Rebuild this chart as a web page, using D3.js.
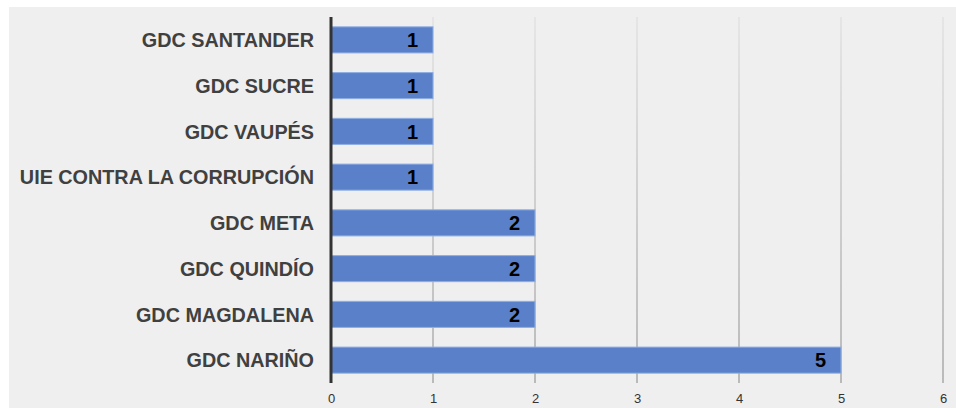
<!DOCTYPE html>
<html>
<head>
<meta charset="utf-8">
<script src="https://cdn.jsdelivr.net/npm/d3@7"></script>
<style>
  html, body { margin: 0; padding: 0; background: #fff; }
  svg { display: block; font-family: "Liberation Sans", Arial, sans-serif; }
</style>
</head>
<body>
<svg id="chart" width="956" height="408"></svg>
<script>
// data
const categories = ['GDC SANTANDER', 'GDC SUCRE', 'GDC VAUPÉS', 'UIE CONTRA LA CORRUPCIÓN',
  'GDC META', 'GDC QUINDÍO', 'GDC MAGDALENA', 'GDC NARIÑO'];
const values = [1, 1, 1, 1, 2, 2, 2, 5];
const xTicks = [0, 1, 2, 3, 4, 5, 6];

const svg = d3.select('#chart');
const margin = { top: 17, right: 13, bottom: 25, left: 331 };
const W = 956 - margin.left - margin.right, H = 408 - margin.top - margin.bottom;

// panel background
svg.append('rect').attr('x', 9).attr('y', 7).attr('width', 947).attr('height', 401).attr('fill', '#efefef');

const defs = svg.append('defs');
const grad = defs.append('linearGradient').attr('id', 'gridGrad')
  .attr('gradientUnits', 'userSpaceOnUse').attr('x1', 0).attr('x2', 0).attr('y1', 0).attr('y2', H);
grad.append('stop').attr('offset', 0).attr('stop-color', '#e2e2e2');
grad.append('stop').attr('offset', 1).attr('stop-color', '#a8a8a8');

const g = svg.append('g').attr('transform', `translate(${margin.left},${margin.top})`);

const x = d3.scaleLinear().domain([0, 6]).range([0, W]);
const y = d3.scaleBand().domain(categories).range([0, H]).paddingInner(0.43).paddingOuter(0.215);

// vertical grid
g.selectAll('.grid').data(xTicks.slice(1)).enter().append('line')
  .attr('x1', d => x(d)).attr('x2', d => x(d)).attr('y1', 0).attr('y2', H)
  .attr('stroke', 'url(#gridGrad)').attr('stroke-width', 1.5);

// bars
g.selectAll('.bar').data(values).enter().append('rect')
  .attr('x', 0).attr('y', (d, i) => y(categories[i]))
  .attr('width', d => x(d)).attr('height', y.bandwidth())
  .attr('fill', '#5a80c9').attr('stroke', '#8eaee3').attr('stroke-width', 1);

// value labels
g.selectAll('.val').data(values).enter().append('text')
  .attr('x', d => x(d) - 15).attr('y', (d, i) => y(categories[i]) + y.bandwidth() / 2)
  .attr('dy', '0.36em').attr('text-anchor', 'end')
  .attr('font-size', 20).attr('font-weight', 'bold').attr('fill', '#000')
  .text(d => d);

// category labels
g.selectAll('.cat').data(categories).enter().append('text')
  .attr('x', -17).attr('y', d => y(d) + y.bandwidth() / 2)
  .attr('dy', '0.36em').attr('text-anchor', 'end')
  .attr('font-size', 19.8).attr('font-weight', 'bold').attr('fill', '#404040')
  .text(d => d);

// x axis labels
g.append('g').attr('transform', `translate(0,${H})`)
  .call(d3.axisBottom(x).tickValues(xTicks).tickSize(0).tickPadding(11).tickFormat(d3.format('d')))
  .call(s => s.select('.domain').remove())
  .call(s => s.selectAll('text').attr('font-size', 13).attr('fill', '#333').attr('font-family', '"Liberation Sans", Arial, sans-serif'));

// y axis line
g.append('line').attr('x1', 0).attr('x2', 0).attr('y1', 0).attr('y2', H)
  .attr('stroke', '#333').attr('stroke-width', 3);
</script>
</body>
</html>
